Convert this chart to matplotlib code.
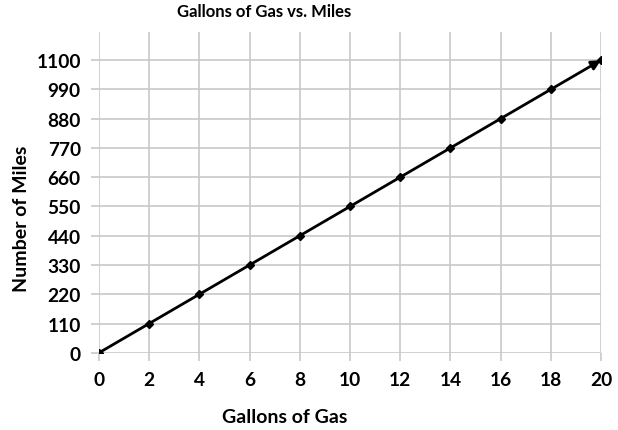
import matplotlib
matplotlib.use("Agg")
import matplotlib.pyplot as plt

gallons = [0, 2, 4, 6, 8, 10, 12, 14, 16, 18, 20]
miles = [0, 110, 220, 330, 440, 550, 660, 770, 880, 990, 1100]
x_ticks = [0, 2, 4, 6, 8, 10, 12, 14, 16, 18, 20]
y_ticks = [0, 110, 220, 330, 440, 550, 660, 770, 880, 990, 1100]

plt.rcParams['font.family'] = ['Lato', 'DejaVu Sans']

fig = plt.figure(figsize=(6.18, 4.31), dpi=100)
ax = fig.add_axes([0.160, 0.179, 0.8125, 0.744])

ax.plot(gallons[:-1], miles[:-1], color='black', lw=2, marker='D', ms=4.5, zorder=3)
ax.annotate('', xy=(gallons[-1], miles[-1]), xytext=(gallons[-2], miles[-2]),
            arrowprops=dict(arrowstyle='-|>', color='black', lw=2, mutation_scale=14,
                            shrinkA=0, shrinkB=0), zorder=3)
ax.plot([gallons[-1]], [miles[-1]], color='black', marker='D', ms=4.5, zorder=3)

ax.set_xlim(0, 20)
ax.set_ylim(0, 1205)
ax.set_xticks(x_ticks)
ax.set_yticks(y_ticks)
ax.grid(True, color='#c8c8c8', lw=1.2)
ax.set_axisbelow(True)
for s in ax.spines.values():
    s.set_visible(False)
ax.tick_params(axis='both', color='#c8c8c8', length=6, width=1.2, labelsize=13.8)
for lab in ax.get_xticklabels() + ax.get_yticklabels():
    lab.set_fontweight('bold')
ax.tick_params(axis='x', pad=7)
ax.tick_params(axis='y', pad=7)

ax.text(0.33, 1.04, 'Gallons of Gas vs. Miles', transform=ax.transAxes,
        fontsize=12, fontweight='bold', ha='center', va='bottom')
ax.set_xlabel('Gallons of Gas', fontsize=14, fontweight='bold')
ax.xaxis.set_label_coords(0.37, -0.172)
ax.set_ylabel('Number of Miles', fontsize=14, fontweight='bold')
ax.yaxis.set_label_coords(-0.137, 0.42)

fig.savefig('out.png', dpi=100)
